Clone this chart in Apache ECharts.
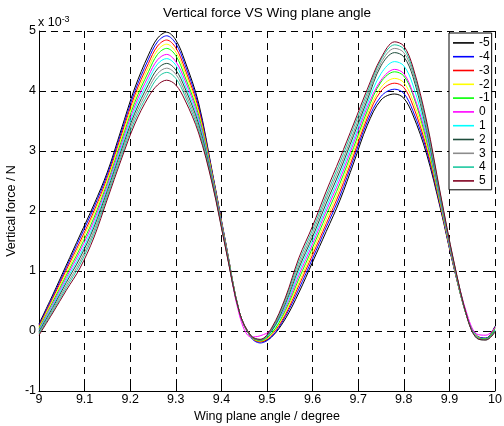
<!DOCTYPE html>
<html><head><meta charset="utf-8">
<script src="https://cdn.jsdelivr.net/npm/echarts@6/dist/echarts.min.js"></script>
<style>html,body{margin:0;padding:0;background:#fff}#c{width:504px;height:426px}</style>
</head><body><div id="c"></div><script>
const angles = [9.00,9.03,9.06,9.09,9.12,9.15,9.18,9.21,9.24,9.26,9.28,9.30,9.32,9.35,9.38,9.41,9.44,9.465,9.485,9.51,9.54,9.57,9.60,9.63,9.66,9.69,9.72,9.75,9.78,9.80,9.82,9.85,9.88,9.91,9.94,9.96,9.98,10.00];
const seriesNames = ['-5','-4','-3','-2','-1','0','1','2','3','4','5'];
const seriesColors = ['#000000','#0000ff','#ff0000','#ffff00','#00ff00','#ff00ff','#00ffff','#1e4d3c','#8c8c8c','#1ec8a0','#800020'];
const forceM5 = [0.12,0.60,1.10,1.60,2.10,2.65,3.35,4.05,4.60,4.88,4.98,4.85,4.50,3.80,2.65,1.45,0.30,-0.10,-0.18,-0.10,0.20,0.64,1.15,1.66,2.18,2.80,3.43,3.85,3.95,3.88,3.60,2.95,2.05,1.05,0.20,-0.08,-0.12,0.08];
const forceM4 = [0.10,0.57,1.06,1.55,2.05,2.61,3.30,3.99,4.53,4.82,4.92,4.79,4.44,3.75,2.63,1.44,0.30,-0.11,-0.20,-0.10,0.24,0.70,1.21,1.73,2.25,2.87,3.49,3.91,4.03,3.96,3.67,3.01,2.08,1.06,0.20,-0.08,-0.12,0.07];
const forceM3 = [0.08,0.54,1.02,1.49,1.99,2.56,3.25,3.93,4.46,4.75,4.85,4.72,4.37,3.70,2.61,1.43,0.30,-0.10,-0.18,-0.07,0.27,0.76,1.27,1.79,2.32,2.93,3.55,4.00,4.13,4.06,3.76,3.06,2.10,1.07,0.20,-0.09,-0.13,0.06];
const forceM2 = [0.06,0.51,0.97,1.44,1.94,2.52,3.20,3.87,4.39,4.68,4.78,4.65,4.31,3.65,2.59,1.42,0.30,-0.10,-0.17,-0.05,0.31,0.81,1.33,1.86,2.39,3.00,3.61,4.06,4.21,4.14,3.84,3.12,2.13,1.08,0.20,-0.09,-0.13,0.05];
const forceM1 = [0.04,0.48,0.93,1.38,1.88,2.47,3.15,3.81,4.32,4.61,4.71,4.59,4.24,3.60,2.57,1.41,0.30,-0.09,-0.16,-0.04,0.34,0.87,1.39,1.93,2.46,3.06,3.67,4.15,4.32,4.25,3.94,3.17,2.15,1.09,0.20,-0.10,-0.13,0.04];
const force0  = [0.02,0.45,0.89,1.33,1.83,2.43,3.10,3.75,4.25,4.52,4.61,4.49,4.18,3.55,2.55,1.40,0.25,-0.10,-0.08,0.02,0.38,0.93,1.45,2.00,2.53,3.13,3.73,4.18,4.36,4.29,3.97,3.23,2.18,1.10,0.25,-0.05,-0.07,0.05];
const forceP1 = [0.01,0.42,0.85,1.27,1.77,2.38,3.05,3.69,4.18,4.45,4.54,4.43,4.11,3.50,2.53,1.39,0.30,-0.09,-0.15,-0.01,0.41,0.99,1.51,2.06,2.60,3.19,3.79,4.29,4.49,4.42,4.10,3.28,2.20,1.11,0.20,-0.10,-0.14,0.02];
const forceP2 = [-0.01,0.39,0.81,1.22,1.72,2.34,3.00,3.63,4.11,4.37,4.46,4.35,4.05,3.45,2.51,1.38,0.30,-0.09,-0.15,0.00,0.45,1.05,1.57,2.13,2.67,3.26,3.85,4.42,4.64,4.57,4.24,3.34,2.23,1.12,0.20,-0.11,-0.14,0.01];
const forceP3 = [-0.03,0.36,0.76,1.16,1.66,2.29,2.95,3.57,4.04,4.29,4.38,4.28,3.98,3.40,2.49,1.37,0.30,-0.08,-0.15,0.02,0.48,1.10,1.63,2.20,2.74,3.32,3.91,4.47,4.71,4.64,4.30,3.39,2.25,1.13,0.20,-0.11,-0.14,0.00];
const forceP4 = [-0.05,0.33,0.72,1.11,1.61,2.25,2.90,3.51,3.97,4.22,4.31,4.21,3.92,3.35,2.47,1.36,0.30,-0.08,-0.14,0.03,0.52,1.16,1.69,2.26,2.81,3.39,3.97,4.52,4.77,4.70,4.35,3.45,2.28,1.14,0.20,-0.12,-0.15,-0.01];
const forceP5 = [-0.07,0.30,0.68,1.05,1.55,2.20,2.85,3.45,3.90,4.10,4.18,4.10,3.85,3.30,2.45,1.35,0.30,-0.08,-0.14,0.05,0.55,1.22,1.75,2.33,2.88,3.45,4.03,4.55,4.82,4.75,4.40,3.50,2.30,1.15,0.20,-0.12,-0.15,-0.02];
const allForces = [forceM5,forceM4,forceM3,forceM2,forceM1,force0,forceP1,forceP2,forceP3,forceP4,forceP5];

const FONT = 'Liberation Sans, Arial, sans-serif';
const dash = [7,5];
const chart = echarts.init(document.getElementById('c'), null, {renderer:'canvas'});
chart.setOption({
  animation:false,
  backgroundColor:'#fff',
  grid: {left:39, right:9, top:31, bottom:35, containLabel:false, outerBoundsMode:'none'},
  textStyle:{fontFamily:FONT},
  legend:{
    data: seriesNames.map(n => ({name:n, icon:'rect'})), orient:'vertical', left:449, top:33,
    padding:[3,2,2,4], itemGap:0, itemWidth:21, itemHeight:1.6,
    backgroundColor:'#fff', borderColor:'#000', borderWidth:1, borderRadius:0,
    textStyle:{fontSize:12, color:'#000', fontFamily:FONT, lineHeight:13.8, height:13.8}
  },
  xAxis:[{
    type:'value', min:9, max:10, interval:0.1, position:'bottom',
    name:'Wing plane angle / degree', nameLocation:'middle', nameGap:19, nameMoveOverlap:false,
    nameTextStyle:{fontSize:12.5, color:'#000', fontFamily:FONT, verticalAlign:'top'},
    axisLine:{show:true, onZero:false, lineStyle:{color:'#000', width:1}},
    axisTick:{show:true, inside:true, length:5, lineStyle:{color:'#000'}},
    axisLabel:{fontSize:12.5, color:'#000', margin:2, fontFamily:FONT, showMaxLabel:true, showMinLabel:true},
    splitLine:{show:true, lineStyle:{color:'#000', type:dash, width:1}}
  },{
    type:'value', min:9, max:10, interval:0.1, position:'top',
    axisLine:{show:false}, axisTick:{show:true, inside:true, length:5, lineStyle:{color:'#000'}},
    axisLabel:{show:false}, splitLine:{show:false}
  }],
  yAxis:[{
    type:'value', min:-1, max:5, interval:1, position:'left',
    name:'Vertical force / N', nameLocation:'middle', nameGap:21, nameRotate:90, nameMoveOverlap:false,
    nameTextStyle:{fontSize:12.5, color:'#000', fontFamily:FONT},
    axisLine:{show:true, onZero:false, lineStyle:{color:'#000', width:1}},
    axisTick:{show:true, inside:true, length:5, lineStyle:{color:'#000'}},
    axisLabel:{fontSize:12.5, color:'#000', margin:3, fontFamily:FONT},
    splitLine:{show:true, lineStyle:{color:'#000', type:dash, width:1}}
  },{
    type:'value', min:-1, max:5, interval:1, position:'right',
    axisLine:{show:false}, axisTick:{show:true, inside:true, length:5, lineStyle:{color:'#000'}},
    axisLabel:{show:false}, splitLine:{show:false}
  }],
  graphic:[
    {type:'text', x:267, y:13, style:{text:'Vertical force VS Wing plane angle', fill:'#000', font:'13.5px '+FONT, textAlign:'center', textVerticalAlign:'middle'}},
    {type:'text', x:38, y:23, style:{text:'x 10{s|-3}', fill:'#000', font:'12.5px '+FONT, textAlign:'left', textVerticalAlign:'middle', rich:{s:{fontSize:9, verticalAlign:'top', padding:[0,0,7,0], fontFamily:FONT}}}}
  ],
  series: seriesNames.map((nm, k) => ({
    name:nm, type:'line', xAxisIndex:0, yAxisIndex:0,
    data: angles.map((a, i) => [a, allForces[k][i]]),
    symbol:'none', showSymbol:false, smooth:0.35,
    color: seriesColors[k],
    itemStyle:{color:seriesColors[k]},
    lineStyle:{width:1, color:seriesColors[k]},
    z: 3
  }))
});
</script></body></html>
